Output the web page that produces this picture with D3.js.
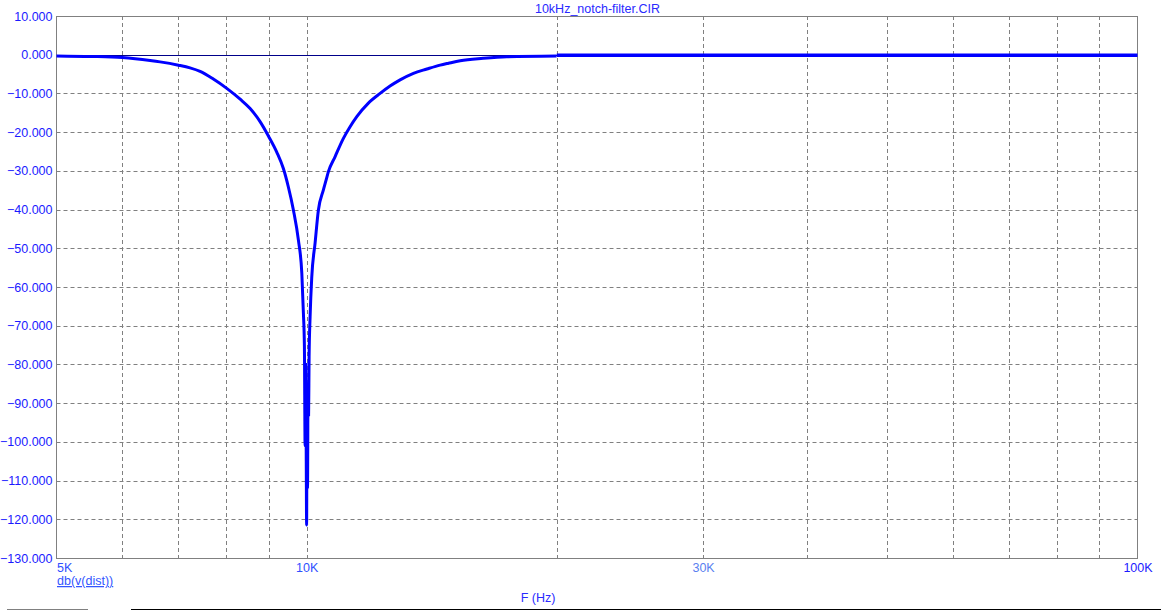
<!DOCTYPE html>
<html>
<head>
<meta charset="utf-8">
<script src="https://cdn.jsdelivr.net/npm/d3@7"></script>
<style>
  html, body { margin: 0; padding: 0; background: #fff; }
  svg { display: block; font-family: Arial, "Liberation Sans", sans-serif; }
</style>
</head>
<body>
<svg id="chart" width="1161" height="611"></svg>
<script>
// ---- data ----
const title = "10kHz_notch-filter.CIR";
const yLabel = "db(v(dist))";
const xLabel = "F (Hz)";

const freqHz = [5000, 5500, 6000, 6481, 6662, 7010, 7239, 7444, 7722, 8015, 8318, 8551, 8790, 8995, 9208, 9376,
  9505, 9640, 9775, 9868, 9911, 9939,
  9958, 9975, 9990, 10000, 10010, 10025, 10040, 10055, 10069, 10097, 10144, 10238, 10332, 10476, 10554, 10622,
  10822, 11073, 11280, 11492, 11867, 12258, 12601, 12957, 13444, 13957, 14479, 14817, 15305, 16311, 17417, 19990];
const gainDb = [-0.3, -0.45, -0.75, -1.5, -1.85, -2.7, -3.4, -4.3, -6.3, -8.7, -11.5, -13.9, -17.3, -21.0, -25.2, -29.4,
  -34.1, -40.1, -47.9, -56.5, -66.7, -75.4,
  -101, -80, -105, -121.5, -95, -112, -85, -93, -78, -67.7, -57.4, -48.6, -40.1, -34.9, -32.4, -30.2,
  -26.3, -21.6, -18.6, -16.0, -12.5, -10.0, -8.1, -6.5, -4.8, -3.7, -2.7, -2.2, -1.55, -0.93, -0.52, -0.34];
// flat section beyond the sweep
const flatHz = [20000, 100000];
const flatDb = [-0.12, -0.12];

const yTickValues = [10, 0, -10, -20, -30, -40, -50, -60, -70, -80, -90, -100, -110, -120, -130];
const xTickValues = [5000, 10000, 30000, 100000];
const xTickLabels = ["5K", "10K", "30K", "100K"];
const xTickColors = ["#3050ff", "#3050ff", "#5a7ff0", "#1a1aff"];
const xGridValues = [6000, 7000, 8000, 9000, 10000, 20000, 30000, 40000, 50000, 60000, 70000, 80000, 90000];

// ---- layout ----
const L = 56.5, R = 1137.5, T = 16, B = 558;
const svg = d3.select("#chart");
const x = d3.scaleLog().domain([5000, 100000]).range([L, R]);
const y = d3.scaleLinear().domain([-130, 10]).range([B, T]);

// grid
const grid = svg.append("g").attr("stroke", "#808080").attr("stroke-width", 1).attr("stroke-dasharray", "4,3");
grid.selectAll("line.v").data(xGridValues).join("line").attr("class", "v")
  .attr("x1", d => Math.round(x(d)) + 0.5).attr("x2", d => Math.round(x(d)) + 0.5)
  .attr("y1", T).attr("y2", B);
grid.selectAll("line.h").data(yTickValues.filter(v => v < 10 && v > -130 && v !== 0)).join("line").attr("class", "h")
  .attr("y1", d => Math.round(y(d)) + 0.5).attr("y2", d => Math.round(y(d)) + 0.5)
  .attr("x1", L).attr("x2", R);

// zero line
svg.append("line").attr("x1", L).attr("x2", R)
  .attr("y1", Math.round(y(0)) + 0.5).attr("y2", Math.round(y(0)) + 0.5)
  .attr("stroke", "#00008a").attr("stroke-width", 1);

// frame
svg.append("rect").attr("x", L).attr("y", T + 0.5).attr("width", R - L).attr("height", B - T)
  .attr("fill", "none").attr("stroke", "#808080").attr("stroke-width", 1);

// axes labels
const yAxis = d3.axisLeft(y).tickValues(yTickValues).tickFormat(d3.format(".3f")).tickSize(0).tickPadding(4);
const gy = svg.append("g").attr("transform", `translate(${L},0)`).call(yAxis);
gy.select(".domain").remove();
gy.selectAll("text").attr("fill", "#1a1aff").style("font-size", "12.5px").attr("font-family", "Arial, 'Liberation Sans', sans-serif");

const xAxis = d3.axisBottom(x).tickValues(xTickValues).tickFormat((d, i) => xTickLabels[i]).tickSize(0).tickPadding(5);
const gx = svg.append("g").attr("transform", `translate(0,${B})`).call(xAxis);
gx.select(".domain").remove();
gx.selectAll("text").style("font-size", "12.5px").attr("font-family", "Arial, 'Liberation Sans', sans-serif")
  .attr("fill", (d, i) => xTickColors[i])
  .attr("text-anchor", (d, i) => i === 0 ? "start" : "middle");

// curve
const line = d3.line().x(d => x(d[0])).y(d => y(d[1])).curve(d3.curveMonotoneX);
svg.append("path").datum(freqHz.map((f, i) => [f, gainDb[i]]))
  .attr("d", line).attr("fill", "none").attr("stroke", "#0000ff").attr("stroke-width", 3)
  .attr("stroke-linejoin", "miter").attr("stroke-miterlimit", 2);
svg.append("path").datum(flatHz.map((f, i) => [f, flatDb[i]]))
  .attr("d", line).attr("fill", "none").attr("stroke", "#0000ff").attr("stroke-width", 3.5);

// title
svg.append("text").attr("x", 597.5).attr("y", 12.5).attr("text-anchor", "middle")
  .style("font-size", "12.5px").attr("fill", "#2a2aff").text(title);

// y-series label (underlined)
svg.append("text").attr("x", 57).attr("y", 585).style("font-size", "12.5px")
  .attr("fill", "#3355ff").attr("text-decoration", "underline").text(yLabel);

// x label
svg.append("text").attr("x", 538).attr("y", 602).attr("text-anchor", "middle")
  .style("font-size", "12.5px").attr("fill", "#2a2aff").text(xLabel);

// bottom status lines
svg.append("line").attr("x1", 7).attr("x2", 88).attr("y1", 609.5).attr("y2", 609.5).attr("stroke", "#808080");
svg.append("line").attr("x1", 131).attr("x2", 1161).attr("y1", 609.5).attr("y2", 609.5).attr("stroke", "#000");
</script>
</body>
</html>
